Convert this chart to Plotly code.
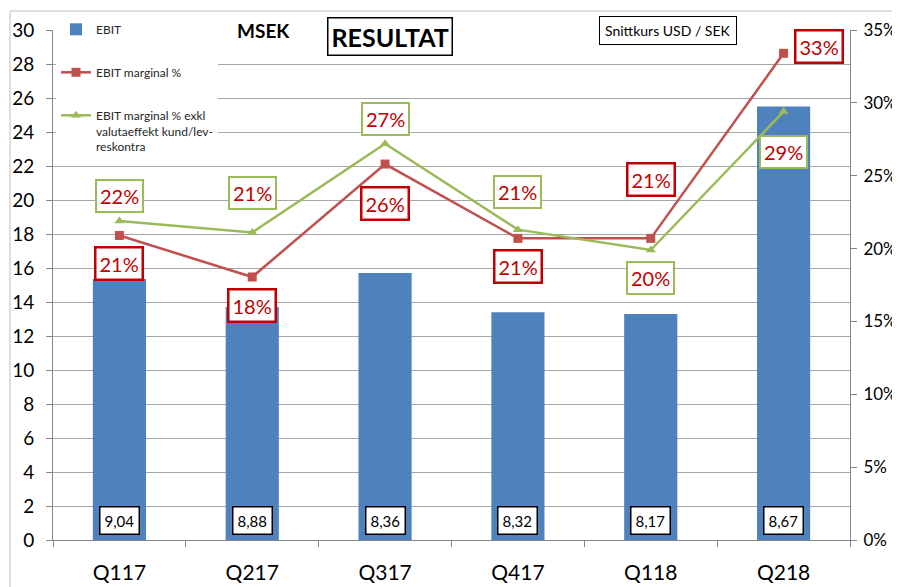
import plotly.graph_objects as go

categories = ["Q117", "Q217", "Q317", "Q417", "Q118", "Q218"]
ebit = [15.35, 13.7, 15.7, 13.4, 13.3, 25.5]
ebit_margin = [20.9, 18.05, 25.8, 20.7, 20.7, 33.4]
ebit_margin_exkl = [21.9, 21.1, 27.2, 21.3, 19.9, 29.4]
usd_sek = [9.04, 8.88, 8.36, 8.32, 8.17, 8.67]

# label offsets (pixels) for the percentage boxes
red_shift = [(0, -28), (0, -29), (0, -39), (0, -28), (0, 59), (35, 7)]
green_shift = [(0, 25), (0, 40), (0, 25), (0, 38), (0, -28), (0, -40)]

FONT = "Lato"
BAR = "#4F81BD"
RED = "#C0504D"
GREEN = "#9BBB59"
LABEL_RED = "#C00000"
GRID = "#a6a6a6"
AXIS = "#868686"

# page body margin offset
O = 8
W, H = 900 - O, 587 - O
# plot area in page pixels: x 53..850, y 30..540
L, T = 53 - O, 30 - O
R = W - (850 - O)
B = H - (540 - O)
PW, PH = W - L - R, H - T - B


def px(xp):
    return (xp - O - L) / PW


def py(yp):
    return 1 - (yp - O - T) / PH


fig = go.Figure()
fig.add_trace(go.Bar(x=categories, y=ebit, name="EBIT", marker_color=BAR,
                     marker_line_width=0, legendgroup="a", yaxis="y"))
fig.add_trace(go.Scatter(x=categories, y=ebit_margin, name="EBIT marginal %",
                         mode="lines+markers", line=dict(color=RED, width=2.5),
                         marker=dict(symbol="square", size=9, color=RED),
                         legendgroup="b", yaxis="y2"))
fig.add_trace(go.Scatter(x=categories, y=ebit_margin_exkl,
                         name="EBIT marginal % exkl<br>valutaeffekt kund/lev-<br>reskontra",
                         mode="lines+markers", line=dict(color=GREEN, width=2.5),
                         marker=dict(symbol="triangle-up", size=9, color=GREEN),
                         legendgroup="c", yaxis="y2"))

ann = []
for c, v, (dx, dy) in zip(categories, ebit_margin, red_shift):
    ann.append(dict(x=c, y=v, xref="x", yref="y2", text=f"{v:.0f}%", showarrow=False,
                    xanchor="center", yanchor="middle",
                    xshift=dx, yshift=dy, font=dict(family=FONT, size=20, color=LABEL_RED),
                    bgcolor="white", bordercolor=LABEL_RED, borderwidth=2.5, borderpad=3))
for c, v, (dx, dy) in zip(categories, ebit_margin_exkl, green_shift):
    ann.append(dict(x=c, y=v, xref="x", yref="y2", text=f"{v:.0f}%", showarrow=False,
                    xanchor="center", yanchor="middle",
                    xshift=dx, yshift=dy, font=dict(family=FONT, size=20, color=LABEL_RED),
                    bgcolor="white", bordercolor=GREEN, borderwidth=2, borderpad=3))
for c, v in zip(categories, usd_sek):
    ann.append(dict(x=c, y=0, xref="x", yref="y", text=f"{v:.2f}".replace(".", ","),
                    showarrow=False, yshift=20, xanchor="center", yanchor="middle",
                    font=dict(family=FONT, size=15, color="black"),
                    bgcolor="white", bordercolor="black", borderwidth=1.5, borderpad=4))

ann.append(dict(x=px(263), y=py(31), xref="paper", yref="paper", text="<b>MSEK</b>",
                xanchor="center", yanchor="middle",
                showarrow=False, font=dict(family=FONT, size=19, color="black"),
                bgcolor="white", borderpad=2))
ann.append(dict(x=px(390), y=py(37), xref="paper", yref="paper",
                xanchor="center", yanchor="middle",
                text="<b>RESULTAT</b>", showarrow=False,
                font=dict(family=FONT, size=25, color="black"),
                bgcolor="white", bordercolor="black", borderwidth=1.5, borderpad=3))
ann.append(dict(x=px(668), y=py(31), xref="paper", yref="paper",
                xanchor="center", yanchor="middle",
                text="Snittkurs USD / SEK", showarrow=False,
                font=dict(family=FONT, size=14, color="black"),
                bgcolor="white", bordercolor="black", borderwidth=1, borderpad=5))

fig.update_layout(
    width=W, height=H,
    margin=dict(l=L, r=R, t=T, b=B, autoexpand=False),
    paper_bgcolor="white", plot_bgcolor="white",
    font=dict(family=FONT, color="black"),
    bargap=0.6,
    showlegend=True,
    legend=dict(x=px(56), y=py(15), xanchor="left", yanchor="top",
                bgcolor="white", font=dict(family=FONT, size=12, color="#262626"),
                tracegroupgap=24, valign="top", itemwidth=30),
    xaxis=dict(showline=True, linecolor=AXIS, linewidth=1, ticks="outside",
               tickson="boundaries", ticklen=6, tickcolor=AXIS,
               tickfont=dict(family=FONT, size=21, color="black"),
               ticklabelstandoff=14, showgrid=False, automargin=False),
    yaxis=dict(range=[0, 30], dtick=2, showline=True, linecolor=AXIS, linewidth=1,
               ticks="outside", ticklen=6, tickcolor=AXIS, showgrid=True,
               gridcolor=GRID, gridwidth=1, zeroline=False, automargin=False,
               ticklabelstandoff=8,
               tickfont=dict(family=FONT, size=19, color="black")),
    yaxis2=dict(range=[0, 35], dtick=5, ticksuffix="%", overlaying="y", side="right",
                showline=True, linecolor=AXIS, linewidth=1, ticks="outside", ticklen=6,
                tickcolor=AXIS, showgrid=False, zeroline=False, automargin=False,
                ticklabelstandoff=3,
                tickfont=dict(family=FONT, size=17, color="black")),
    annotations=ann,
    shapes=[dict(type="rect", xref="paper", yref="paper",
                 x0=px(10), x1=1.2, y0=-0.2, y1=py(11),
                 line=dict(color="#bfbfbf", width=1), layer="below")],
)

fig.write_html("out.html")
